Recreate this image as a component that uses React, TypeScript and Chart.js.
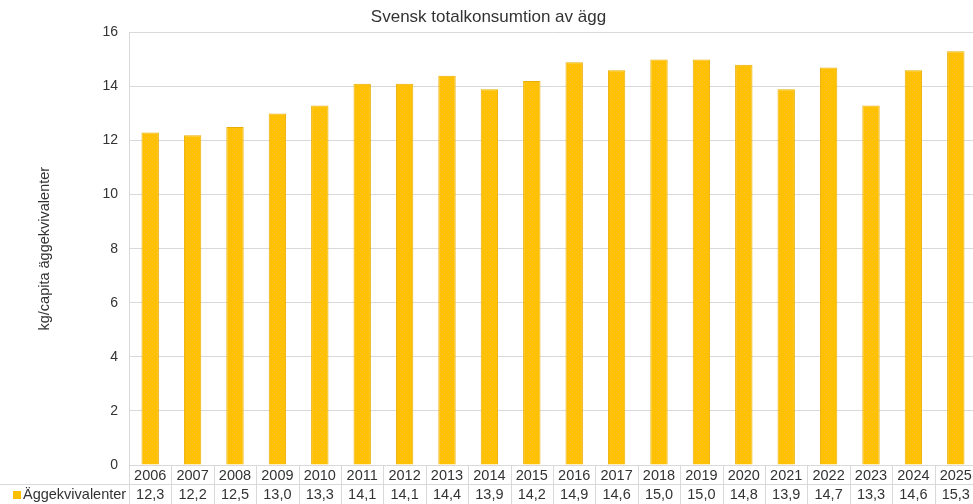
import React, { useEffect, useRef } from "react";
import { Chart, registerables } from "chart.js";

Chart.register(...registerables);

const years = ["2006","2007","2008","2009","2010","2011","2012","2013","2014","2015","2016","2017","2018","2019","2020","2021","2022","2023","2024","2025"];
const values = [12.3,12.2,12.5,13.0,13.3,14.1,14.1,14.4,13.9,14.2,14.9,14.6,15.0,15.0,14.8,13.9,14.7,13.3,14.6,15.3];
const seriesName = "Äggekvivalenter";
const chartTitle = "Svensk totalkonsumtion av ägg";
const yTitle = "kg/capita äggekvivalenter";

const FONT = "'Liberation Sans', Arial, sans-serif";
const BAR = "#FFC000";
const GRID = "#d9d9d9";
const TEXT = "#333333";

function makePattern(): CanvasPattern | string {
  const c = document.createElement("canvas");
  c.width = 4; c.height = 4;
  const g = c.getContext("2d");
  if (!g) return BAR;
  g.fillStyle = BAR;
  g.fillRect(0, 0, 4, 4);
  g.fillStyle = "#F7C52E";
  g.fillRect(0, 0, 1, 1);
  g.fillRect(2, 2, 1, 1);
  const p = g.createPattern(c, "repeat");
  return p || BAR;
}

const tablePlugin = {
  id: "dataTable",
  afterDraw(chart: any) {
    const ctx = chart.ctx;
    const xs = chart.scales.x;
    const area = chart.chartArea;
    const n = years.length;
    const step = xs.getPixelForValue(1) - xs.getPixelForValue(0);
    const y0 = Math.round(area.bottom) + 0.5;
    const y1 = 484.5;
    const y2 = 504;
    ctx.save();
    ctx.strokeStyle = GRID;
    ctx.lineWidth = 1;
    ctx.beginPath();
    ctx.moveTo(0, y1);
    ctx.lineTo(chart.width, y1);
    for (let i = 0; i <= n; i++) {
      const x = Math.round(xs.getPixelForValue(0) - step / 2 + i * step) + 0.5;
      ctx.moveTo(x, y0);
      ctx.lineTo(x, y2);
    }
    ctx.stroke();
    ctx.fillStyle = TEXT;
    ctx.font = `14.5px ${FONT}`;
    ctx.textAlign = "center";
    ctx.textBaseline = "middle";
    for (let i = 0; i < n; i++) {
      const cx = xs.getPixelForValue(i);
      ctx.fillText(years[i], cx, 476);
      ctx.fillText(values[i].toFixed(1).replace(".", ","), cx, 495);
    }
    ctx.fillStyle = BAR;
    ctx.fillRect(13, 491, 8, 8);
    ctx.fillStyle = TEXT;
    ctx.textAlign = "left";
    ctx.fillText(seriesName, 23, 495);
    ctx.restore();
  },
};

export default function App() {
  const ref = useRef<HTMLCanvasElement | null>(null);
  useEffect(() => {
    document.body.style.margin = "0";
    if (!ref.current) return;
    const chart = new Chart(ref.current, {
      type: "bar",
      data: {
        labels: years,
        datasets: [
          {
            label: seriesName,
            data: values,
            backgroundColor: makePattern() as any,
            borderColor: "#E8AE00",
            borderWidth: 1,
            barPercentage: 0.41,
            categoryPercentage: 1,
          },
        ],
      },
      options: {
        animation: false,
        responsive: false,
        maintainAspectRatio: false,
        layout: { padding: { left: 0, right: 1, top: 0, bottom: 39 } },
        plugins: {
          legend: { display: false },
          tooltip: { enabled: false },
          title: {
            display: true,
            text: chartTitle,
            color: TEXT,
            font: { family: FONT, size: 17, weight: "normal" },
            padding: { top: 7, bottom: 5 },
          },
        },
        scales: {
          x: {
            display: false,
          },
          y: {
            min: 0,
            max: 16,
            ticks: {
              stepSize: 2,
              color: TEXT,
              font: { family: FONT, size: 14 },
              padding: 11,
            },
            grid: { color: GRID, drawTicks: false },
            border: { display: true, color: GRID },
            title: {
              display: true,
              text: yTitle,
              color: TEXT,
              font: { family: FONT, size: 14.5 },
              padding: { top: 36, bottom: 0 },
            },
            afterFit(scale: any) {
              scale.width = 129;
            },
          },
        },
      },
      plugins: [tablePlugin],
    });
    return () => chart.destroy();
  }, []);
  return (
    <div style={{ position: "absolute", left: 0, top: 0, width: 973, height: 504, overflow: "hidden" }}>
      <canvas ref={ref} width={978} height={504} style={{ width: 978, height: 504, display: "block" }} />
    </div>
  );
}
